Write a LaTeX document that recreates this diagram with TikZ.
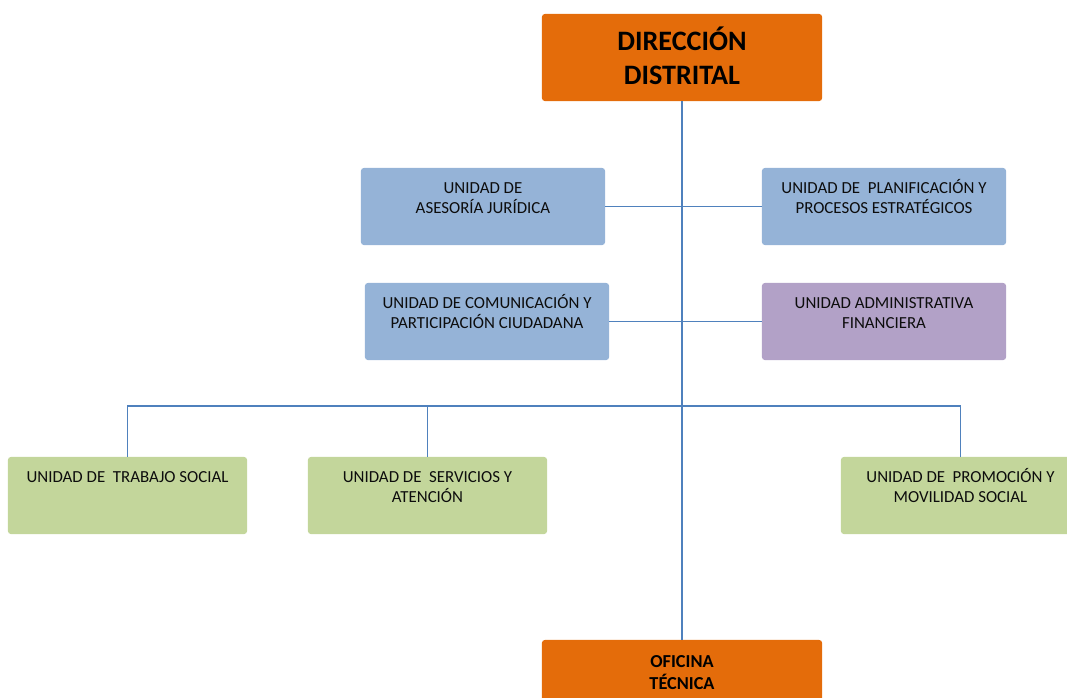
\documentclass[tikz,border=0pt]{standalone}
\usepackage{fontspec}
\setmainfont{Carlito}
\usepackage{tikz}
\usetikzlibrary{positioning, calc}
\definecolor{headorange}{RGB}{228,108,10}
\definecolor{unitblue}{RGB}{149,179,215}
\definecolor{unitpurple}{RGB}{178,161,199}
\definecolor{unitgreen}{RGB}{195,214,155}
\definecolor{linkblue}{RGB}{79,129,189}
\tikzset{toptext/.style 2 args={execute at begin node={\begin{minipage}[c][#1][t]{5.6cm}\centering\rule{0pt}{#2}}, execute at end node={\end{minipage}}}}
\tikzstyle{head} = [rectangle, rounded corners=2pt, inner sep=0pt, minimum width=7cm, minimum height=2.175cm, fill=headorange, text=black, font=\bfseries\fontsize{20}{24.2}\selectfont, toptext={2.175cm}{26.2pt}]
\tikzstyle{unit} = [rectangle, rounded corners=2pt, inner sep=0pt, minimum width=6.1cm, minimum height=1.925cm, fill=unitblue, text=black!95, font=\fontsize{12}{14.2}\selectfont, toptext={1.925cm}{18.2pt}]
\tikzstyle{link} = [draw=linkblue, line width=1.4pt]

\begin{document}
\begin{tikzpicture}[x=0.025cm, y=-0.025cm]
  \useasboundingbox (0,0) rectangle (1067,698);

  \node[head] (direccion) at (682,57.5) {DIRECCIÓN\\DISTRITAL};
  \node[head, font=\bfseries\fontsize{13}{15.6}\selectfont, toptext={2.175cm}{19.4pt}] (oficina) at (682,683.5) {OFICINA\\TÉCNICA};

  \node[unit] (juridica) at (483,206.5) {UNIDAD DE\\ASESORÍA JURÍDICA};
  \node[unit] (planificacion) at (884,206.5) {UNIDAD DE\ \ PLANIFICACIÓN Y\\PROCESOS ESTRATÉGICOS};
  \node[unit] (comunicacion) at (487,321.5) {UNIDAD DE COMUNICACIÓN Y\\PARTICIPACIÓN CIUDADANA};
  \node[unit, fill=unitpurple] (administrativa) at (884,321.5) {UNIDAD ADMINISTRATIVA\\FINANCIERA};

  \node[unit, fill=unitgreen, minimum width=5.975cm] (trabajo) at (127.5,495.5) {UNIDAD DE\ \ TRABAJO SOCIAL};
  \node[unit, fill=unitgreen, minimum width=5.975cm] (servicios) at (427.5,495.5) {UNIDAD DE\ \ SERVICIOS Y\\ATENCIÓN};
  \node[unit, fill=unitgreen, minimum width=5.975cm] (promocion) at (960.5,495.5) {UNIDAD DE\ \ PROMOCIÓN Y\\MOVILIDAD SOCIAL};

  \coordinate (bus) at (682,406);

  \draw[link] (direccion.south) -- (oficina.north);
  \draw[link] (juridica.east) -- (planificacion.west);
  \draw[link] (comunicacion.east) -- (administrativa.west);
  \draw[link] (trabajo.north) |- (bus) -| (promocion.north);
  \draw[link] (servicios.north) -- (servicios.north |- bus);
\end{tikzpicture}
\end{document}
